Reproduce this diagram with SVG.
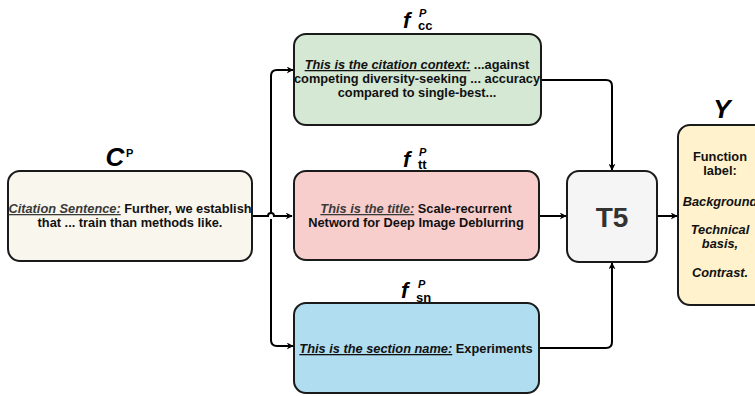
<svg xmlns="http://www.w3.org/2000/svg" width="755" height="396" viewBox="0 0 755 396">
<defs>
<marker id="arr" viewBox="0 0 10 10" refX="9" refY="5" markerWidth="7" markerHeight="7" orient="auto" markerUnits="userSpaceOnUse">
<path d="M0,0 L10,5 L0,10 L3,5 Z" fill="#000"/>
</marker>
<style>
.box{stroke:#1a1a1a;stroke-width:2}
.t{font-family:"Liberation Sans",Arial,sans-serif;font-size:12.8px;font-weight:bold;fill:#111;text-anchor:middle}
.lab{font-family:"Liberation Sans",Arial,sans-serif;font-weight:bold;fill:#000}
.u{text-decoration:underline;font-style:italic}
.c{fill:none;stroke:#000;stroke-width:2}
</style>
</defs>
<rect width="755" height="396" fill="#fff"/>
<g id="connectors">
<path class="c" d="M252,216 H268 A3,3 0 0 1 274,216 H292" marker-end="url(#arr)"/>
<path class="c" d="M271,213 V76 Q271,70 277,70 H293" marker-end="url(#arr)"/>
<path class="c" d="M271,219 V340 Q271,346 277,346 H293" marker-end="url(#arr)"/>
<path class="c" d="M539,216 H566" marker-end="url(#arr)"/>
<path class="c" d="M541,80 H606 Q612,80 612,86 V170" marker-end="url(#arr)"/>
<path class="c" d="M539,348 H606 Q612,348 612,342 V263" marker-end="url(#arr)"/>
<path class="c" d="M657,216 H677" marker-end="url(#arr)"/>
</g>
<g id="cp">
<rect class="box" x="8" y="171" width="244" height="90" rx="12" fill="#f9f7ed"/>
<text class="lab" x="115" y="166" text-anchor="middle" font-size="26" font-style="italic">C</text>
<text class="lab" x="126" y="157" font-size="11">P</text>
<text class="t" x="130" y="213"><tspan class="u" fill="#3a3a3a">Citation Sentence:</tspan> Further, we establish</text>
<text class="t" x="130" y="227">that ... train than methods like.</text>
</g>
<g id="fcc">
<rect class="box" x="294" y="34" width="247" height="91" rx="12" fill="#d5e8d4"/>
<text class="lab" x="403" y="28" font-size="22" font-style="italic">f</text>
<text class="lab" x="419" y="17" font-size="11" font-style="italic">P</text>
<text class="lab" x="418" y="30" font-size="13">cc</text>
<text class="t" x="417" y="69"><tspan class="u">This is the citation context:</tspan> ...against</text>
<text class="t" x="417" y="83">competing diversity-seeking ... accuracy</text>
<text class="t" x="417" y="97">compared to single-best...</text>
</g>
<g id="ftt">
<rect class="box" x="294" y="171" width="245" height="89" rx="12" fill="#f8cecc"/>
<text class="lab" x="403" y="167" font-size="22" font-style="italic">f</text>
<text class="lab" x="419" y="156" font-size="11" font-style="italic">P</text>
<text class="lab" x="418" y="169" font-size="13">tt</text>
<text class="t" x="416" y="213"><tspan class="u" fill="#3a3a3a">This is the title:</tspan>  Scale-recurrent</text>
<text class="t" x="416" y="227">Netword for Deep Image Deblurring</text>
</g>
<g id="fsn">
<rect class="box" x="294" y="303" width="245" height="90" rx="12" fill="#b1ddf0"/>
<text class="lab" x="401" y="298" font-size="22" font-style="italic">f</text>
<text class="lab" x="418" y="288" font-size="11" font-style="italic">P</text>
<text class="lab" x="416" y="302" font-size="13">sn</text>
<text class="t" x="416" y="353"><tspan class="u">This is the section name:</tspan> Experiments</text>
</g>
<g id="t5">
<rect class="box" x="567" y="171" width="90" height="91" rx="12" fill="#f5f5f5"/>
<text class="lab" x="612" y="227" text-anchor="middle" font-size="28" style="fill:#333">T5</text>
</g>
<g id="y">
<rect class="box" x="678" y="125" width="90" height="180" rx="12" fill="#fff2cc"/>
<text class="lab" x="722" y="118" text-anchor="middle" font-size="26" font-style="italic">Y</text>
<text class="t" x="720" y="161">Function</text>
<text class="t" x="720" y="175">label:</text>
<text class="t" x="720" y="206" font-style="italic">Background</text>
<text class="t" x="720" y="234" font-style="italic">Technical</text>
<text class="t" x="720" y="248" font-style="italic">basis,</text>
<text class="t" x="720" y="277" font-style="italic">Contrast.</text>
</g>
</svg>
